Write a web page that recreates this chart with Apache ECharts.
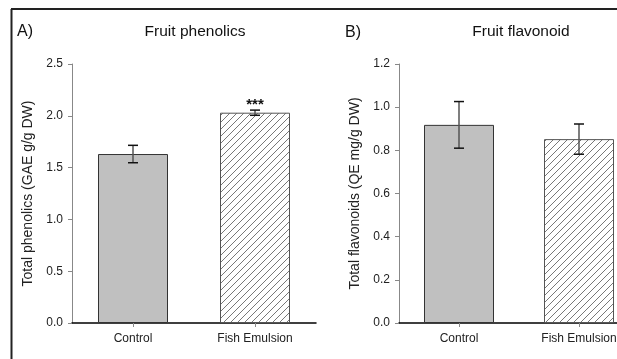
<!DOCTYPE html>
<html>
<head>
<meta charset="utf-8">
<script src="https://cdn.jsdelivr.net/npm/echarts@6/dist/echarts.min.js"></script>
<style>
  html, body { margin: 0; padding: 0; background: #fff; }
  #chart { width: 617px; height: 359px; }
</style>
</head>
<body>
<div id="chart"></div>
<script>
const categories = ['Control', 'Fish Emulsion'];
const phenolicsMean = [1.631, 2.03];
const phenolicsErr = [0.084, 0.025];
const phenolicsSignif = ['', '***'];
const flavonoidMean = [0.918, 0.852];
const flavonoidErr = [0.108, 0.07];

const FONT = '"Liberation Sans", Arial, sans-serif';

// diagonal hatch used for the treatment bars
function hatchPattern() {
  const c = document.createElement('canvas');
  c.width = 7; c.height = 7;
  const ctx = c.getContext('2d');
  ctx.strokeStyle = '#555';
  ctx.lineWidth = 0.8;
  ctx.beginPath();
  ctx.moveTo(-1, 8); ctx.lineTo(8, -1);
  ctx.moveTo(-1, 1); ctx.lineTo(1, -1);
  ctx.moveTo(6, 8); ctx.lineTo(8, 6);
  ctx.stroke();
  return { image: c, repeat: 'repeat' };
}
const hatch = hatchPattern();

function barData(means) {
  return means.map((v, i) => ({
    value: v,
    itemStyle: i === 0
      ? { color: '#c0c0c0', borderColor: '#333', borderWidth: 1 }
      : { color: hatch, borderColor: '#555', borderWidth: 1 }
  }));
}

function errData(means, errs) {
  return means.map((v, i) => [i, v - errs[i], v + errs[i]]);
}

function errorBars(signif) {
  return function (params, api) {
    const x = api.value(0);
    const lo = api.coord([x, api.value(1)]);
    const hi = api.coord([x, api.value(2)]);
    const half = 5;
    const children = [
      { type: 'line', shape: { x1: lo[0], y1: lo[1], x2: hi[0], y2: hi[1] },
        style: { stroke: '#555', lineWidth: 1.5 } },
      { type: 'line', shape: { x1: hi[0] - half, y1: hi[1], x2: hi[0] + half, y2: hi[1] },
        style: { stroke: '#111', lineWidth: 1.5 } },
      { type: 'line', shape: { x1: lo[0] - half, y1: lo[1], x2: lo[0] + half, y2: lo[1] },
        style: { stroke: '#111', lineWidth: 1.5 } }
    ];
    const s = signif && signif[params.dataIndex];
    if (s) {
      children.push({ type: 'text', x: hi[0], y: hi[1] - 13,
        style: { text: s, fill: '#111', font: 'bold 15px ' + FONT, textAlign: 'center', textVerticalAlign: 'top' } });
    }
    return { type: 'group', children: children };
  };
}

function yAxisFor(gridIndex, max, interval, name) {
  return {
    type: 'value', gridIndex: gridIndex, min: 0, max: max, interval: interval,
    name: name, nameLocation: 'middle', nameGap: 37, nameRotate: 90,
    nameTextStyle: { fontFamily: FONT, fontSize: 14, color: '#222' },
    axisLine: { show: true, lineStyle: { color: '#888', width: 1 } },
    axisTick: { show: true, length: 4, lineStyle: { color: '#888' } },
    axisLabel: { fontFamily: FONT, fontSize: 12, color: '#222', margin: 9,
      formatter: v => v.toFixed(1) },
    splitLine: { show: false }
  };
}

function xAxisFor(gridIndex) {
  return {
    type: 'category', gridIndex: gridIndex, data: categories,
    axisLine: { show: true, lineStyle: { color: '#000', width: 1.5 } },
    axisTick: { show: true, alignWithLabel: true, length: 4, lineStyle: { color: '#888' } },
    axisLabel: { fontFamily: FONT, fontSize: 12, color: '#222', margin: 10 }
  };
}

const chart = echarts.init(document.getElementById('chart'));

chart.setOption({
  animation: false,
  backgroundColor: '#fff',
  grid: [
    { left: 72, top: 64, width: 244, height: 259, outerBoundsMode: 'none', containLabel: false },
    { left: 399, top: 64, width: 240, height: 259, outerBoundsMode: 'none', containLabel: false }
  ],
  xAxis: [xAxisFor(0), xAxisFor(1)],
  yAxis: [
    yAxisFor(0, 2.5, 0.5, 'Total phenolics (GAE g/g DW)'),
    yAxisFor(1, 1.2, 0.2, 'Total flavonoids (QE mg/g DW)')
  ],
  graphic: [
    { type: 'line', shape: { x1: 11, y1: 9, x2: 617, y2: 9 }, style: { stroke: '#222', lineWidth: 2 } },
    { type: 'line', shape: { x1: 11.5, y1: 9, x2: 11.5, y2: 359 }, style: { stroke: '#222', lineWidth: 2 } },
    { type: 'text', x: 17, y: 32, style: { text: 'A)', font: '16px ' + FONT, fill: '#111', textVerticalAlign: 'middle' } },
    { type: 'text', x: 195, y: 32, style: { text: 'Fruit phenolics', font: '15.5px ' + FONT, fill: '#111', textAlign: 'center', textVerticalAlign: 'middle' } },
    { type: 'text', x: 345, y: 33, style: { text: 'B)', font: '16px ' + FONT, fill: '#111', textVerticalAlign: 'middle' } },
    { type: 'text', x: 521, y: 32, style: { text: 'Fruit flavonoid', font: '15.5px ' + FONT, fill: '#111', textAlign: 'center', textVerticalAlign: 'middle' } }
  ],
  series: [
    { type: 'bar', xAxisIndex: 0, yAxisIndex: 0, barWidth: 70, data: barData(phenolicsMean) },
    { type: 'custom', xAxisIndex: 0, yAxisIndex: 0, z: 5, renderItem: errorBars(phenolicsSignif),
      data: errData(phenolicsMean, phenolicsErr) },
    { type: 'bar', xAxisIndex: 1, yAxisIndex: 1, barWidth: 70, data: barData(flavonoidMean) },
    { type: 'custom', xAxisIndex: 1, yAxisIndex: 1, z: 5, renderItem: errorBars(null),
      data: errData(flavonoidMean, flavonoidErr) }
  ]
});

window.addEventListener('resize', function () { chart.resize(); });
</script>
</body>
</html>
